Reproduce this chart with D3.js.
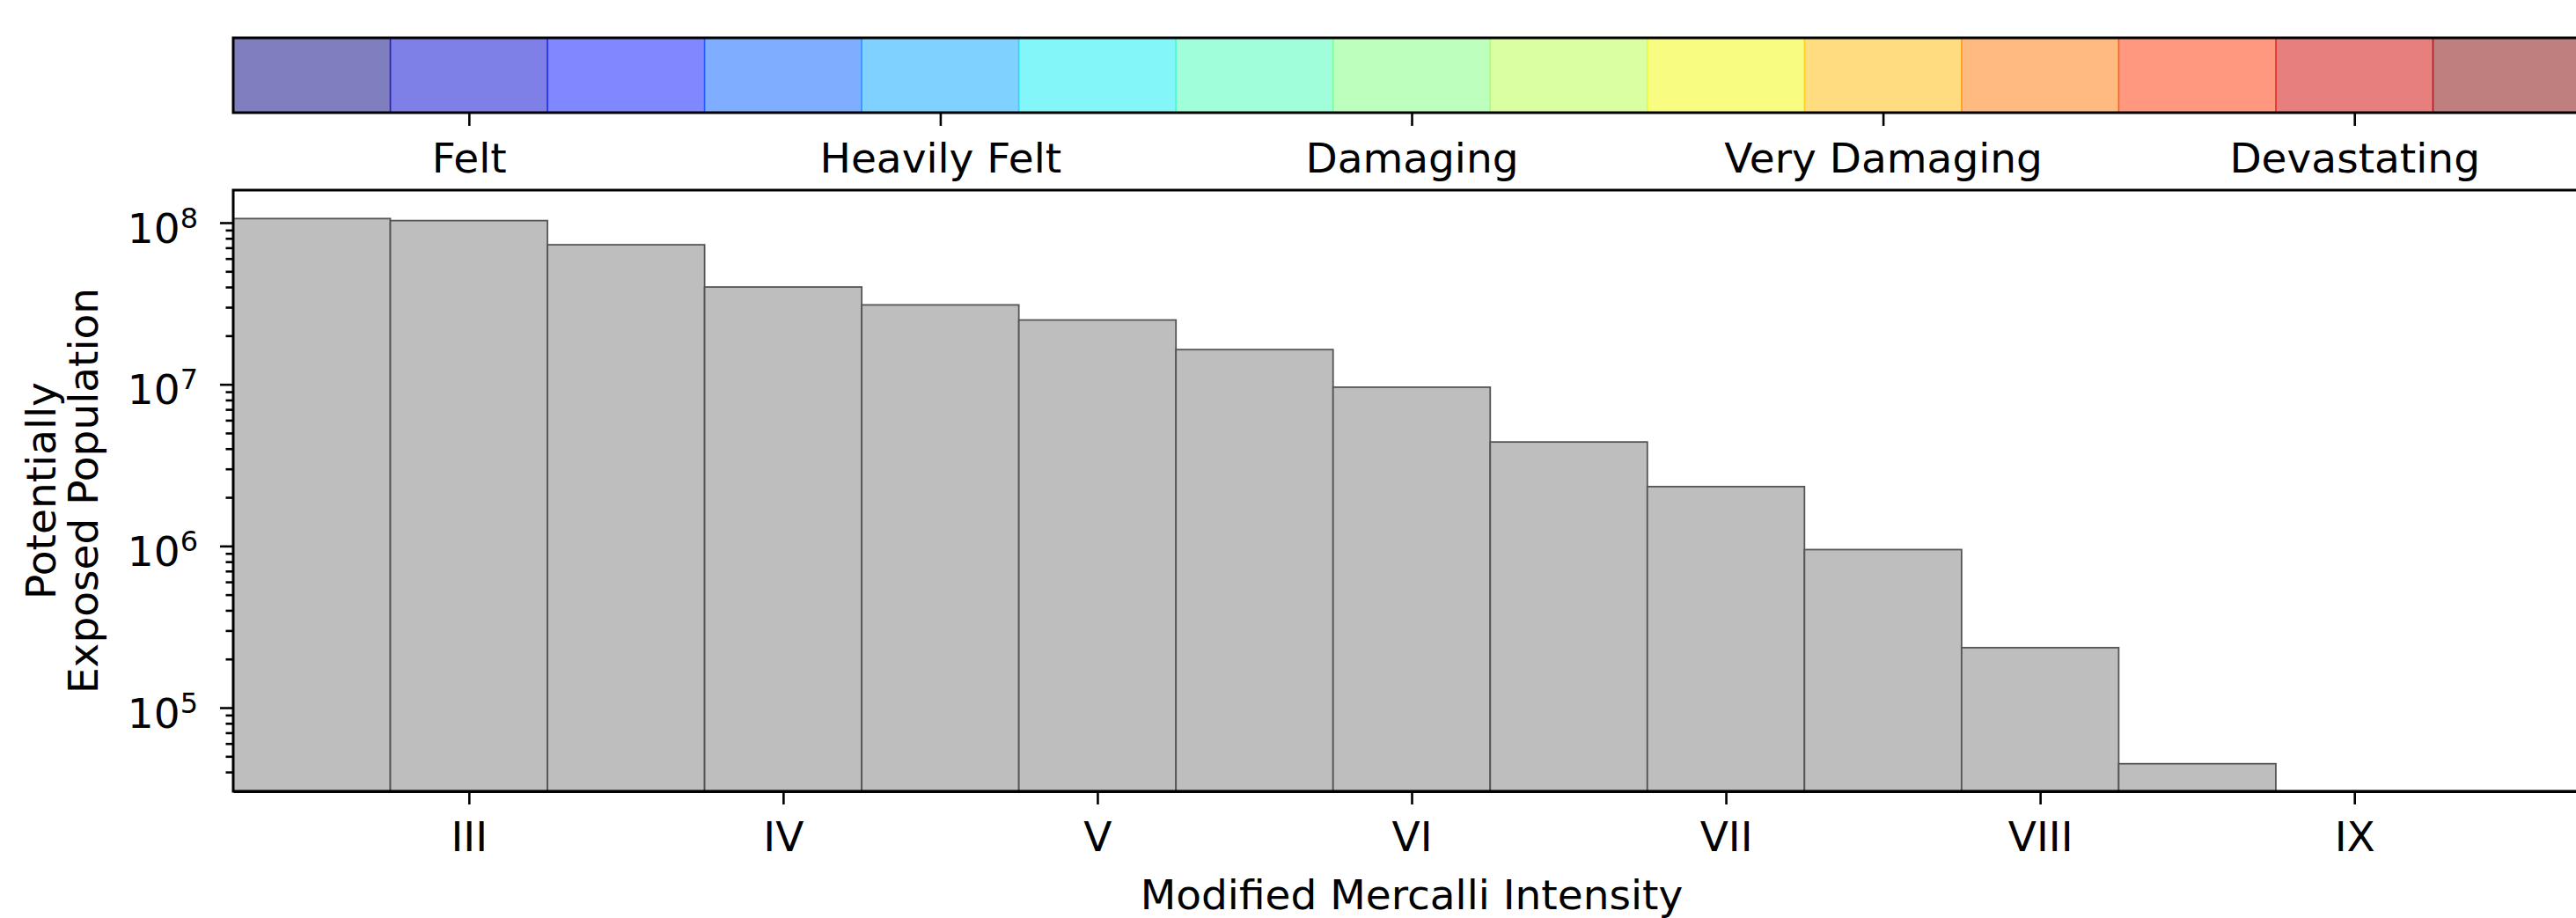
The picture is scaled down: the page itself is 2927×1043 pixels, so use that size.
<!DOCTYPE html>
<html>
<head>
<meta charset="utf-8">
<script src="https://cdn.jsdelivr.net/npm/d3@7"></script>
<style>
  body { margin: 0; background: #fff; overflow: hidden; }
  text { font-family: "DejaVu Sans", sans-serif; fill: #000; }
</style>
</head>
<body>
<div id="chart-area"></div>
<script>
// Bars: intensity (MMI) bin centres and exposed population
var mmiBins = [2.5, 3, 3.5, 4, 4.5, 5, 5.5, 6, 6.5, 7, 7.5, 8, 8.5];
var population = [1.06e8, 1.03e8, 7.3e7, 4.0e7, 3.1e7, 2.5e7, 1.64e7, 9.6e6, 4.4e6, 2.33e6, 9.5e5, 2.35e5, 4.5e4];

// Colour bar cells
var colorBins = [2.5, 3, 3.5, 4, 4.5, 5, 5.5, 6, 6.5, 7, 7.5, 8, 8.5, 9, 9.5];

// Tick labels
var romanTicks = [3, 4, 5, 6, 7, 8, 9];
var romanLabels = ["III", "IV", "V", "VI", "VII", "VIII", "IX"];
var shakingTicks = [3, 4.5, 6, 7.5, 9];
var shakingLabels = ["Felt", "Heavily Felt", "Damaging", "Very Damaging", "Devastating"];
var powerTicks = [1e5, 1e6, 1e7, 1e8];

var W = 2927, H = 1043;
var left = 265, right = 2943;
var plotTop = 216, plotBottom = 899;
var cbTop = 43, cbBottom = 128;
var fontSize = 47;

var svg = d3.select("#chart-area").append("svg")
    .attr("width", W)
    .attr("height", H);

var x = d3.scaleLinear().domain([2.25, 9.75]).range([left, right]);
var y = d3.scaleLog().domain([3.04e4, 1.59e8]).range([plotBottom, plotTop]);

// jet colormap, sampled across the colour bar cells
var jetR = d3.scaleLinear().domain([0, 0.35, 0.66, 0.89, 1]).range([0, 0, 1, 1, 0.5]).clamp(true);
var jetG = d3.scaleLinear().domain([0, 0.125, 0.375, 0.64, 0.91, 1]).range([0, 0, 1, 1, 0, 0]).clamp(true);
var jetB = d3.scaleLinear().domain([0, 0.11, 0.34, 0.65, 1]).range([0.5, 1, 1, 0, 0]).clamp(true);
var jet = function(t) {
    return d3.rgb(jetR(t) * 255, jetG(t) * 255, jetB(t) * 255).formatHex();
};
var cbT = d3.scaleLinear().domain([colorBins[0], colorBins[colorBins.length - 1]]).range([0, 1]);

// ---- colour bar ----
var cb = svg.append("g");
cb.selectAll("rect.cell")
    .data(colorBins)
    .enter()
    .append("rect")
        .attr("class", "cell")
        .attr("x", d => x(d - 0.25))
        .attr("y", cbTop)
        .attr("width", d => x(d + 0.25) - x(d - 0.25))
        .attr("height", cbBottom - cbTop)
        .attr("fill", d => jet(cbT(d)))
        .attr("fill-opacity", 0.5)
        .attr("stroke", d => jet(cbT(d)))
        .attr("stroke-opacity", 0.5)
        .attr("stroke-width", 1.5);

cb.append("rect")
    .attr("x", left)
    .attr("y", cbTop)
    .attr("width", right - left)
    .attr("height", cbBottom - cbTop)
    .attr("fill", "none")
    .attr("stroke", "#000")
    .attr("stroke-width", 3);

var cbAxis = d3.axisBottom(x)
    .tickValues(shakingTicks)
    .tickFormat((d, i) => shakingLabels[i])
    .tickSize(15)
    .tickSizeOuter(0)
    .tickPadding(20);

var cbAxisG = svg.append("g")
    .attr("transform", `translate(0,${cbBottom})`)
    .call(cbAxis);
cbAxisG.select(".domain").remove();

// ---- bars ----
svg.append("clipPath").attr("id", "plot-clip")
  .append("rect")
    .attr("x", left).attr("y", plotTop)
    .attr("width", right - left).attr("height", plotBottom - plotTop);

svg.append("g")
    .attr("clip-path", "url(#plot-clip)")
  .selectAll("rect")
    .data(mmiBins)
    .enter()
    .append("rect")
        .attr("x", d => x(d - 0.25))
        .attr("y", (d, i) => y(population[i]))
        .attr("width", d => x(d + 0.25) - x(d - 0.25))
        .attr("height", (d, i) => plotBottom - y(population[i]) + 5)
        .attr("fill", "#bebebe")
        .attr("stroke", "#555")
        .attr("stroke-width", 1.8);

// ---- axes ----
var xAxis = d3.axisBottom(x)
    .tickValues(romanTicks)
    .tickFormat((d, i) => romanLabels[i])
    .tickSize(15)
    .tickSizeOuter(0)
    .tickPadding(20);

svg.append("g")
    .attr("transform", `translate(0,${plotBottom})`)
    .call(xAxis);

var minorTicks = y.ticks().filter(d => powerTicks.indexOf(d) < 0);

svg.append("g")
    .attr("transform", `translate(${left},0)`)
    .call(d3.axisLeft(y).tickValues(minorTicks).tickSize(8.5).tickSizeOuter(0).tickFormat(""))
    .call(g => g.select(".domain").remove());

var yAxisG = svg.append("g")
    .attr("transform", `translate(${left},0)`)
    .call(d3.axisLeft(y).tickValues(powerTicks).tickSize(15).tickSizeOuter(0).tickPadding(25).tickFormat(""));
yAxisG.select(".domain").remove();

yAxisG.selectAll(".tick text")
    .attr("dy", "0.47em")
    .each(function(d) {
        var t = d3.select(this);
        t.append("tspan").text("10");
        t.append("tspan")
            .attr("font-size", 32)
            .attr("dy", -17)
            .text(Math.round(Math.log10(d)));
    });

// axis frame
svg.append("rect")
    .attr("x", left)
    .attr("y", plotTop)
    .attr("width", right - left)
    .attr("height", plotBottom - plotTop)
    .attr("fill", "none")
    .attr("stroke", "#000")
    .attr("stroke-width", 3);

svg.selectAll(".tick line").attr("stroke", "#000").attr("stroke-width", 2.6);
svg.selectAll(".tick text")
    .attr("font-size", fontSize)
    .attr("font-family", "DejaVu Sans");
svg.selectAll(".domain").attr("stroke-width", 3);

// ---- titles ----
svg.append("text")
    .attr("x", (left + right) / 2)
    .attr("y", 1033)
    .attr("text-anchor", "middle")
    .attr("font-size", fontSize)
    .text("Modified Mercalli Intensity");

var yTitle = svg.append("text")
    .attr("transform", "rotate(-90)")
    .attr("text-anchor", "middle")
    .attr("font-size", fontSize);
yTitle.append("tspan")
    .attr("x", -(plotTop + plotBottom) / 2)
    .attr("y", 63)
    .text("Potentially");
yTitle.append("tspan")
    .attr("x", -(plotTop + plotBottom) / 2)
    .attr("y", 111)
    .text("Exposed Population");
</script>
</body>
</html>
